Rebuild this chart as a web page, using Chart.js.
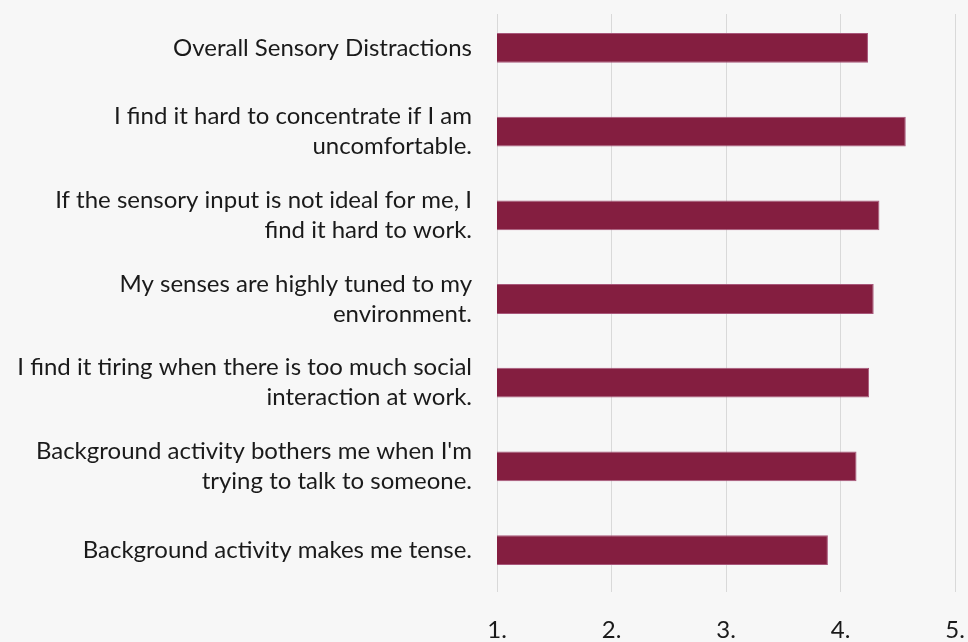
<!DOCTYPE html>
<html>
<head>
<meta charset="utf-8">
<script src="https://cdn.jsdelivr.net/npm/chart.js@4"></script>
<style>
  html, body { margin: 0; padding: 0; background: #f7f7f7; }
  #wrap { width: 968px; height: 642px; position: relative; }
</style>
</head>
<body>
<div id="wrap"><canvas id="c"></canvas></div>
<script>
const categories = [
  ["Overall Sensory Distractions"],
  ["I find it hard to concentrate if I am", "uncomfortable."],
  ["If the sensory input is not ideal for me, I", "find it hard to work."],
  ["My senses are highly tuned to my", "environment."],
  ["I find it tiring when there is too much social", "interaction at work."],
  ["Background activity bothers me when I'm", "trying to talk to someone."],
  ["Background activity makes me tense."]
];
const values = [4.24, 4.57, 4.34, 4.29, 4.25, 4.14, 3.89];
const xTicks = [1, 2, 3, 4, 5];
const xTickLabels = ["1.", "2.", "3.", "4.", "5."];

const BG = '#f7f7f7';
const FONT = 'Lato, "Noto Sans", sans-serif';

const gridMask = {
  id: 'gridMask',
  beforeDatasetsDraw(chart) {
    const { ctx, chartArea } = chart;
    ctx.save();
    ctx.fillStyle = BG;
    ctx.fillRect(chartArea.left - 2, chartArea.top - 1, chartArea.right - chartArea.left + 4, 9);
    ctx.restore();
  }
};
const bgPlugin = {
  id: 'bg',
  beforeDraw(chart) {
    const { ctx, width, height } = chart;
    ctx.save();
    ctx.fillStyle = BG;
    ctx.fillRect(0, 0, width, height);
    ctx.restore();
  }
};

new Chart(document.getElementById('c'), {
  type: 'bar',
  data: {
    labels: categories,
    datasets: [{
      data: values,
      backgroundColor: '#841e40',
      borderColor: '#a8577a',
      borderWidth: 1,
      borderSkipped: false,
      categoryPercentage: 1,
      barPercentage: 0.356
    }]
  },
  options: {
    indexAxis: 'y',
    responsive: true,
    maintainAspectRatio: false,
    animation: false,
    layout: { padding: { top: 6, right: 13, left: 0, bottom: 0 } },
    plugins: { legend: { display: false }, tooltip: { enabled: false } },
    scales: {
      x: {
        type: 'linear',
        min: xTicks[0],
        max: xTicks[xTicks.length - 1],
        afterBuildTicks(scale) { scale.ticks = xTicks.map(v => ({ value: v })); },
        afterFit(scale) { scale.height = 50; scale.paddingLeft = 0; scale.paddingRight = 0; },
        border: { display: false },
        grid: { color: '#d9d9d9', lineWidth: 1, drawTicks: false },
        ticks: {
          padding: 24,
          color: '#1a1a1a',
          font: { family: FONT, size: 24 },
          maxRotation: 0,
          callback: (v) => xTickLabels[xTicks.indexOf(v)]
        }
      },
      y: {
        type: 'category',
        afterFit(scale) { scale.width = 497; scale.paddingTop = 0; scale.paddingBottom = 0; },
        border: { display: false },
        grid: { display: false, drawTicks: false },
        ticks: {
          padding: 25,
          color: '#1a1a1a',
          font: { family: FONT, size: 24, lineHeight: 1.25 }
        }
      }
    }
  },
  plugins: [bgPlugin, gridMask]
});
</script>
</body>
</html>
